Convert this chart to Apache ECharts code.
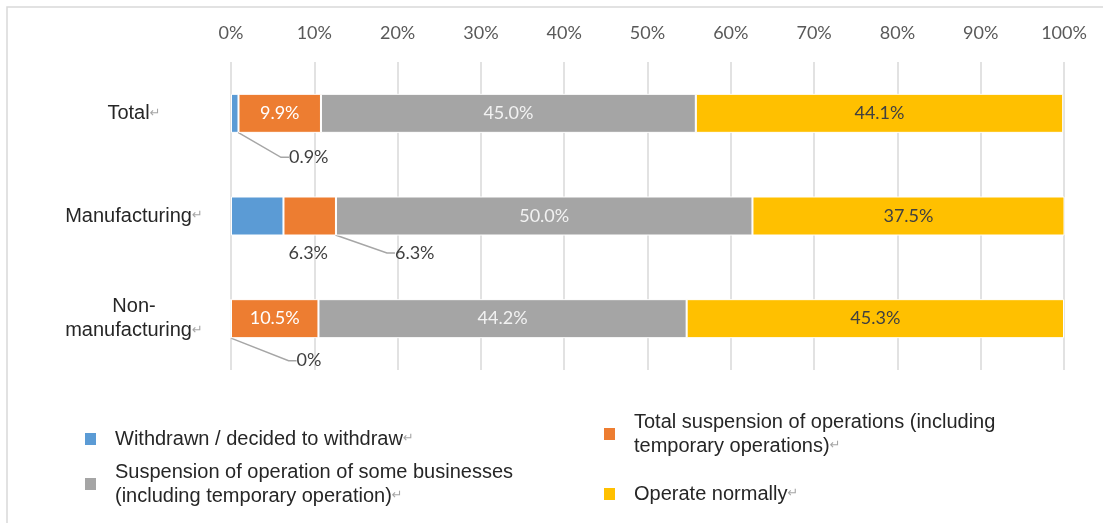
<!DOCTYPE html>
<html>
<head>
<meta charset="utf-8">
<script src="https://cdn.jsdelivr.net/npm/echarts@6/dist/echarts.min.js"></script>
<style>
  html, body { margin: 0; padding: 0; background: #fff; }
  #chart { width: 1103px; height: 523px; }
</style>
</head>
<body>
<div id="chart"></div>
<script>
// 分类与数值（从图中读取，单位 %）
const categories = ["Total", "Manufacturing", "Non-\nmanufacturing"];
const seriesNames = [
  "Withdrawn / decided to withdraw",
  "Total suspension of operations (including temporary operations)",
  "Suspension of operation of some businesses (including temporary operation)",
  "Operate normally",
];
const withdrawn = [0.9, 6.3, 0];
const totalSuspension = [9.9, 6.3, 10.5];
const partialSuspension = [45.0, 50.0, 44.2];
const operateNormally = [44.1, 37.5, 45.3];
const xTicks = [0, 10, 20, 30, 40, 50, 60, 70, 80, 90, 100];

// 图例显示文本（含换行）
const legendText = [
  "Withdrawn / decided to withdraw",
  "Total suspension of operations (including\ntemporary operations)",
  "Suspension of operation of some businesses\n(including temporary operation)",
  "Operate normally",
];

const COLORS = ["#5b9bd5", "#ed7d31", "#a5a5a5", "#ffc000"];
const TEXT_DARK = "#404040";
const AXIS_TEXT = "#595959";
const GRID_LINE = "#d9d9d9";
const MARK = "#a6a6a6";
const NUM_FONT = "Lato, 'Open Sans', sans-serif";
const TXT_FONT = "'Liberation Sans', Arial, sans-serif";

const fmtPct = (v) => (v === 0 ? "0%" : v.toFixed(1) + "%");

// 段落标记 ↵ 用浅灰色，跟在最后一行后面
const withMark = (text) =>
  text
    .split("\n")
    .map((line, j, arr) => "{t|" + line + "}" + (j === arr.length - 1 ? "{p|↵}" : ""))
    .join("\n");

const RICH = {
  t: { fontFamily: TXT_FONT, fontSize: 20, lineHeight: 24, color: "#262626" },
  p: { fontFamily: "'DejaVu Sans', sans-serif", fontSize: 13, lineHeight: 24, color: MARK },
};

// 小值标签移到柱外，按 [系列, 数据下标] 指定偏移
const outsideOffsets = {
  "0-0": { dx: 74, dy: 44 },
  "0-1": { dx: 51, dy: 37 },
  "0-2": { dx: 78, dy: 42 },
  "1-1": { dx: 105, dy: 37 },
};

const chart = echarts.init(document.getElementById("chart"), null, { renderer: "canvas" });

const makeSeries = (idx, values, labelColor) => ({
  name: seriesNames[idx],
  type: "bar",
  stack: "all",
  barWidth: 39,
  itemStyle: { color: COLORS[idx], borderColor: "#fff", borderWidth: 1 },
  label: {
    show: true,
    position: "inside",
    color: labelColor,
    fontFamily: NUM_FONT,
    fontSize: 18,
    formatter: (p) => fmtPct(p.value),
  },
  labelLine: { show: true, length2: 8, lineStyle: { color: MARK, width: 1.5 } },
  labelLayout: (p) => outsideOffsets[idx + "-" + p.dataIndex] || {},
  data: values.map((v, i) => {
    const key = idx + "-" + i;
    if (outsideOffsets[key]) {
      const item = { value: v, label: { color: TEXT_DARK } };
      if (key === "0-1") item.labelLine = { show: false };
      return item;
    }
    return { value: v, labelLine: { show: false } };
  }),
});

const legendPos = [
  { left: 80, top: 424 },
  { left: 599, top: 407 },
  { left: 80, top: 457 },
  { left: 599, top: 479 },
];

const option = {
  backgroundColor: "#fff",
  animation: false,
  graphic: [
    {
      type: "rect",
      z: -10,
      shape: { x: 7, y: 7, width: 1200, height: 600 },
      style: { fill: "none", stroke: GRID_LINE, lineWidth: 1.5 },
    },
  ],
  grid: { left: 231, right: 39, top: 62, bottom: 153 },
  legend: legendPos.map((pos, i) => ({
    left: pos.left,
    top: pos.top,
    data: [seriesNames[i]],
    icon: "rect",
    itemWidth: 11,
    itemHeight: 12,
    itemStyle: { borderWidth: 0 },
    selectedMode: false,
    formatter: () => withMark(legendText[i]),
    textStyle: { padding: [0, 0, 0, 14], rich: RICH },
  })),
  xAxis: {
    type: "value",
    position: "top",
    min: 0,
    max: 100,
    interval: 10,
    axisLine: { show: false },
    axisTick: { show: false },
    splitLine: { lineStyle: { color: GRID_LINE, width: 1.5 } },
    axisLabel: {
      color: AXIS_TEXT,
      fontFamily: NUM_FONT,
      fontSize: 18,
      margin: 20,
      formatter: (v) => (xTicks.includes(v) ? v + "%" : ""),
    },
  },
  yAxis: {
    type: "category",
    inverse: true,
    data: categories,
    axisLine: { show: false },
    axisTick: { show: false },
    axisLabel: {
      align: "center",
      margin: 97,
      formatter: (v) => withMark(v),
      rich: RICH,
    },
  },
  series: [
    makeSeries(0, withdrawn, TEXT_DARK),
    makeSeries(1, totalSuspension, "#ffffff"),
    makeSeries(2, partialSuspension, "#f2f2f2"),
    makeSeries(3, operateNormally, TEXT_DARK),
  ],
};

chart.setOption(option);
</script>
</body>
</html>
